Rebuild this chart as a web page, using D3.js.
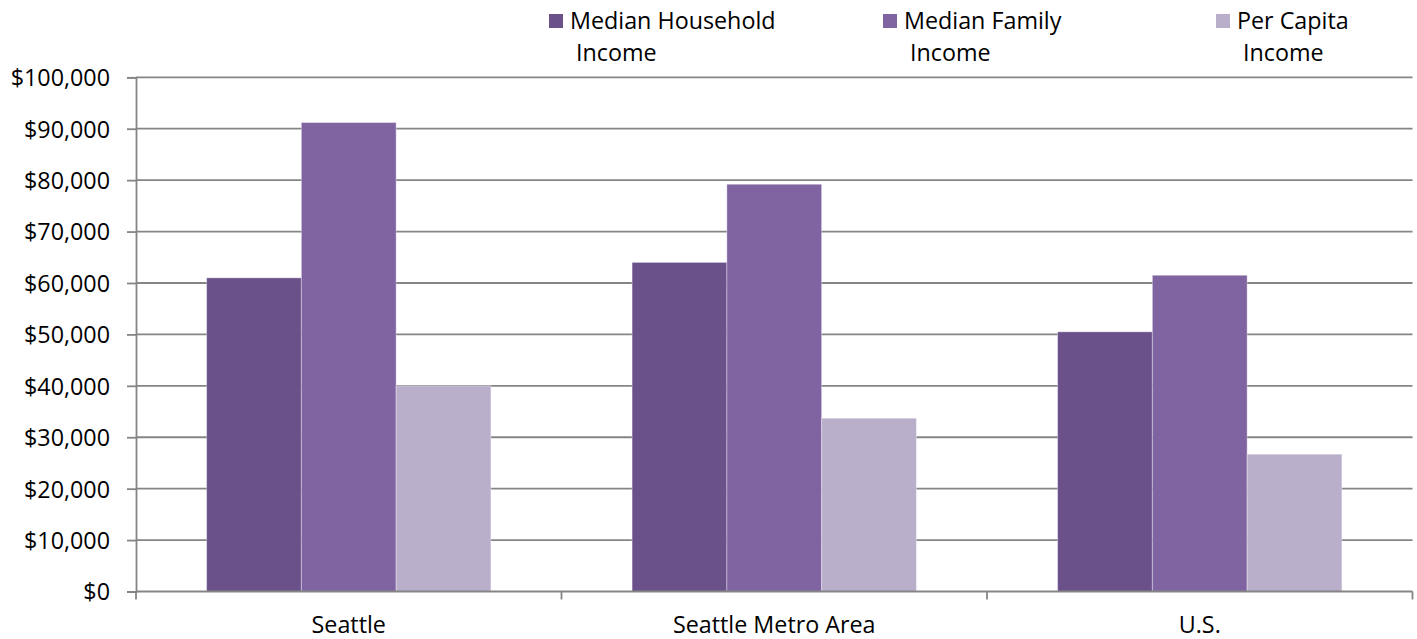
<!DOCTYPE html>
<html>
<head>
<meta charset="utf-8">
<script src="https://cdnjs.cloudflare.com/ajax/libs/d3/7.8.5/d3.min.js"></script>
<style>
  body { margin: 0; background: #fff; }
  text { font-family: "Open Sans", "DejaVu Sans", sans-serif; fill: #000; }
</style>
</head>
<body>
<div id="viz"></div>
<script>
// data
var categories = ["Seattle", "Seattle Metro Area", "U.S."];
var seriesNames = ["Median Household Income", "Median Family Income", "Per Capita Income"];
var legendLines = [["Median Household", "Income"], ["Median Family", "Income"], ["Per Capita", "Income"]];
var householdValues = [61000, 64000, 50500];
var familyValues = [91200, 79200, 61500];
var perCapitaValues = [40000, 33700, 26700];
var yTicks = [0, 10000, 20000, 30000, 40000, 50000, 60000, 70000, 80000, 90000, 100000];

var colors = ["#6a5189", "#8064a2", "#b9afca"];

var w = 1417;
var h = 639;
var margin = { left: 136, right: 4.5, top: 77.3, bottom: 47.5 };
var fontSize = 23.3;

var svg = d3.select("div#viz")
  .append("svg")
  .attr("width", w)
  .attr("height", h);

var x0 = d3.scaleBand()
  .domain(categories)
  .range([margin.left, w - margin.right])
  .padding(0);

var x1 = d3.scaleBand()
  .domain(seriesNames)
  .range([0, x0.bandwidth()])
  .paddingInner(0)
  .paddingOuter(0.745);

var y = d3.scaleLinear()
  .domain([0, 100000])
  .range([h - margin.bottom, margin.top]);

var fmt = d3.format("$,");

// gridlines
svg.append("g")
  .selectAll("line")
  .data(yTicks.slice(1))
  .enter()
  .append("line")
  .attr("x1", margin.left)
  .attr("x2", w - margin.right)
  .attr("y1", function(d) { return y(d); })
  .attr("y2", function(d) { return y(d); })
  .attr("stroke", "#858585")
  .attr("stroke-width", 1.8);

// bars
var rows = categories.map(function(c, i) {
  return [householdValues[i], familyValues[i], perCapitaValues[i]].map(function(v, j) {
    return { cat: c, series: seriesNames[j], value: v, idx: j };
  });
});

svg.append("g")
  .selectAll("g")
  .data(rows)
  .enter()
  .append("g")
  .attr("transform", function(d) { return "translate(" + x0(d[0].cat) + ",0)"; })
  .selectAll("rect")
  .data(function(d) { return d; })
  .enter()
  .append("rect")
  .attr("x", function(d) { return x1(d.series); })
  .attr("width", x1.bandwidth())
  .attr("y", function(d) { return y(d.value); })
  .attr("height", function(d) { return y(0) - y(d.value); })
  .attr("fill", function(d) { return colors[d.idx]; })
  .attr("stroke", "#ffffff")
  .attr("stroke-opacity", 0.35)
  .attr("stroke-width", 1);

// y axis
var yAxis = d3.axisLeft(y)
  .tickValues(yTicks)
  .tickSize(9)
  .tickPadding(17)
  .tickFormat(function(d) { return fmt(d); });

var gy = svg.append("g")
  .attr("transform", "translate(" + margin.left + ",0)")
  .call(yAxis);
gy.select(".domain").attr("stroke", "#858585").attr("stroke-width", 1.8);
gy.selectAll(".tick line").attr("stroke", "#858585").attr("stroke-width", 1.8);
gy.selectAll(".tick text")
  .attr("font-size", fontSize)
  .attr("font-family", null)
  .attr("dy", "0.36em");

// x axis, ticks between the groups
var xAxisLine = svg.append("g");
xAxisLine.append("line")
  .attr("x1", margin.left)
  .attr("x2", w - margin.right)
  .attr("y1", y(0))
  .attr("y2", y(0))
  .attr("stroke", "#858585")
  .attr("stroke-width", 1.8);

var bounds = categories.map(function(c) { return x0(c); }).concat([x0.range()[1]]);
xAxisLine.selectAll("line.sep")
  .data(bounds)
  .enter()
  .append("line")
  .attr("class", "sep")
  .attr("x1", function(d) { return d; })
  .attr("x2", function(d) { return d; })
  .attr("y1", y(0))
  .attr("y2", y(0) + 8)
  .attr("stroke", "#858585")
  .attr("stroke-width", 1.8);

xAxisLine.selectAll("text")
  .data(categories)
  .enter()
  .append("text")
  .attr("x", function(d) { return x0(d) + x0.bandwidth() / 2; })
  .attr("y", 633)
  .attr("text-anchor", "middle")
  .attr("font-size", fontSize)
  .text(function(d) { return d; });

// legend
var legendX = [549, 883, 1216];
var legend = svg.append("g")
  .selectAll("g")
  .data(seriesNames)
  .enter()
  .append("g")
  .attr("transform", function(d, i) { return "translate(" + legendX[i] + ",0)"; });

legend.append("rect")
  .attr("x", 0)
  .attr("y", 14)
  .attr("width", 14)
  .attr("height", 14)
  .attr("fill", function(d, i) { return colors[i]; });

legend.append("text")
  .attr("x", 21)
  .attr("y", 29)
  .attr("font-size", fontSize)
  .text(function(d, i) { return legendLines[i][0]; });

legend.append("text")
  .attr("x", 27)
  .attr("y", 61)
  .attr("font-size", fontSize)
  .text(function(d, i) { return legendLines[i][1]; });
</script>
</body>
</html>
